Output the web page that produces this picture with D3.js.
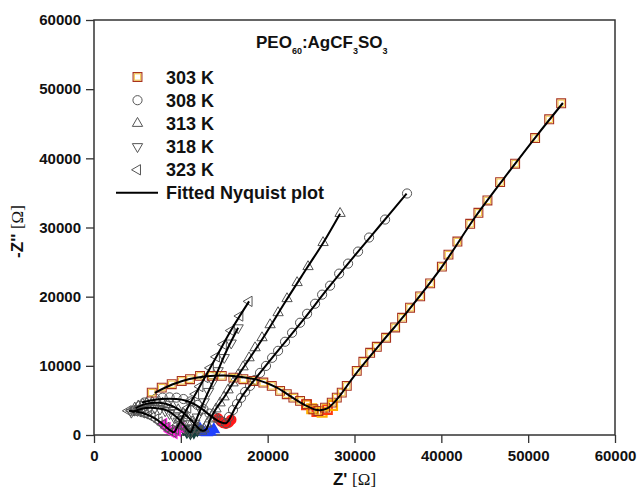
<!DOCTYPE html>
<html lang="en">
  <head>
    <meta charset="utf-8">
    <title>Nyquist plot PEO60:AgCF3SO3</title>
    <style>
      body { margin: 0; background: #fff; }
      text { font-family: "Liberation Sans", Arial, sans-serif; font-weight: bold; fill: #111; }
      .axis path { display: none; }
      .axis line { stroke: #333; stroke-width: 1.3; }
    </style>
  </head>
  <body>
    <div id="chart"></div>
    <script src="https://cdn.jsdelivr.net/npm/d3@7"></script>
    <script>
      // ticks
      var xTicks = [0, 10000, 20000, 30000, 40000, 50000, 60000];
      var yTicks = [0, 10000, 20000, 30000, 40000, 50000, 60000];

      // measured points [Z', -Z'']
      var k303 = [[6650,6130],[7800,6850],[8950,7340],[10100,7820],[11060,8070],[12210,8550],[13560,8550],[14710,8550],
        [16050,8300],[17200,8070],[18350,7820],[19500,7580],[20470,7100],[21430,6380],[22200,5900],[22960,5400],
        [23730,4930],[24500,4450],[25260,3720],[25840,3480],[26610,3960],[27380,4680],[27960,5400],[28530,6130],
        [29110,7100],[30260,9270],[31020,10580],[31800,11880],[32570,12750],[33640,14060],[34680,15550],[35480,16950],
        [36400,18400],[37560,20040],[38710,21920],[40060,24340],[40820,26080],[41850,27970],[43320,30530],[44270,32120],
        [45310,33910],[46770,36560],[48500,39220],[50800,42930],[52420,45640],[53800,47960]];
      var k308 = [[5300,4200],[5800,4700],[6400,5000],[7100,5250],[7900,5400],[8700,5450],[9500,5400],[10300,5200],
        [11100,4850],[11900,4350],[12600,3750],[13300,3100],[14000,2500],[14600,2000],[15200,1700],
        [15550,2610],[16010,3620],[16470,4490],[16930,5360],[17400,6230],[17970,7100],[18550,7970],[19120,8980],
        [19810,9990],[20510,11160],[21200,12170],[22000,13480],[22810,14780],[23730,16230],[24540,17530],[25460,18980],
        [26270,20290],[27190,21590],[28230,23330],[29260,24780],[30410,26520],[31680,28550],[33520,31150],[36050,34920]];
      var k313 = [[4700,3900],[5100,4200],[5600,4450],[6100,4600],[6700,4700],[7300,4700],[7900,4600],[8500,4400],
        [9100,4100],[9700,3650],[10300,3100],[10800,2500],[11300,1900],[11700,1300],[12100,850],[12400,550],
        [12670,870],[13020,1590],[13360,2320],[13710,3040],[14050,3770],[14520,4640],[14980,5510],[15440,6520],
        [16010,7530],[16590,8690],[17170,9850],[17860,11160],[18550,12610],[19350,14060],[20280,15940],[21200,17680],
        [22230,19710],[23390,22030],[24650,24340],[26380,27820],[28340,32030]];
      var k318 = [[4300,3300],[4700,3600],[5200,3800],[5800,3900],[6400,3950],[7000,3900],[7600,3750],[8200,3500],
        [8700,3100],[9200,2600],[9700,2000],[10100,1500],[10500,1000],[10800,600],[11100,400],
        [11300,900],[11600,1700],[11900,2600],[12300,3600],[12700,4800],[13200,6300],[13700,7700],[14300,9300],
        [15000,11200],[15800,13300],[16600,15500]];
      var k323 = [[3950,3500],[4300,3500],[4700,3450],[5100,3350],[5500,3200],[5900,3050],[6300,2850],[6700,2600],
        [7100,2300],[7500,1900],[7900,1500],[8300,1100],[8700,700],[9100,400],
        [9400,800],[9700,1500],[10000,2200],[10400,3000],[10800,3900],[11200,4800],[11700,5900],[12200,7000],
        [12800,8300],[13400,9700],[14100,11300],[14900,13100],[15800,15100],[16800,17200],[17860,19320]];

      // dense low-frequency points seen in colour under the markers
      var tail303 = [[24300,4600],[24900,4000],[25500,3600],[26100,3500],[26700,3900],[27300,4500]];
      var tail308 = [[14300,2400],[14600,2000],[14900,1750],[15200,1650],[15500,1800],[15800,2200]];
      var tail313 = [[12200,900],[12600,450],[13000,350],[13400,450],[13800,800]];
      var tail318 = [[10300,900],[10700,450],[11100,300],[11500,400],[11900,700]];
      var tail323 = [[8000,1600],[8400,1000],[8800,500],[9200,300],[9600,600],[10000,1100]];

      // fitted curves
      var fit303 = [[7000,6100],[9000,7300],[11000,8100],[13000,8500],[15000,8600],[17000,8400],[19000,7900],[21000,6900],
        [23000,5300],[24500,4200],[25700,3600],[26800,3800],[28000,5200],[30000,8600],[33000,13200],[36000,17700],
        [40000,24200],[44000,31700],[48000,38400],[51000,43300],[54000,48000]];
      var fit308 = [[5500,4700],[7000,5100],[8500,5250],[9500,5200],[10500,5000],[11500,4500],[12500,3700],[13500,2700],
        [14500,1900],[15200,1700],[15600,2300],[16200,3800],[17000,5500],[18000,7200],[19000,8800],[21000,11900],
        [24000,16500],[27000,21300],[30000,25900],[33000,30400],[36000,34900]];
      var fit313 = [[4800,3900],[6000,4500],[7500,4650],[9000,4200],[10200,3300],[11300,2000],[12000,1000],[12500,600],
        [12900,800],[13400,2300],[14000,3700],[15000,5500],[16000,7500],[17500,10300],[19500,14100],[22000,19200],
        [24500,24100],[26400,27800],[28340,32000]];
      var fit318 = [[4400,3300],[5500,3800],[7000,3900],[8500,3500],[9500,2600],[10300,1500],[10800,700],[11100,400],
        [11500,1400],[12200,3500],[13000,5800],[14000,8500],[15200,12000],[16600,15500]];
      var fit323 = [[4000,3500],[5000,3350],[6000,3000],[7000,2400],[8000,1500],[8800,650],[9200,400],[9600,1200],
        [10500,3300],[12000,6600],[14000,11100],[16000,15600],[17860,19320]];

      var labels = ["303 K", "308 K", "313 K", "318 K", "323 K"];

      var margin = {top: 20, right: 22, bottom: 58, left: 94},
          width = 637 - margin.left - margin.right,
          height = 493 - margin.top - margin.bottom;

      var svg = d3.select("#chart").append("svg")
          .attr("width", 637).attr("height", 493)
        .append("g")
          .attr("transform", "translate(" + margin.left + "," + margin.top + ")");

      var x = d3.scaleLinear().domain([0, 60000]).range([0, width]);
      var y = d3.scaleLinear().domain([0, 60000]).range([height, 0]);

      svg.append("g")
        .attr("class", "axis")
        .attr("transform", "translate(0," + height + ")")
        .call(d3.axisBottom(x).tickValues(xTicks).tickFormat(d3.format("d")).tickSize(8).tickPadding(7))
        .selectAll("text").style("font-size", "15px").attr("fill", "#111");

      svg.append("g")
        .attr("class", "axis")
        .call(d3.axisLeft(y).tickValues(yTicks).tickFormat(d3.format("d")).tickSize(8).tickPadding(5))
        .selectAll("text").style("font-size", "15px").attr("fill", "#111");

      svg.append("rect")
        .attr("width", width).attr("height", height)
        .attr("fill", "none").attr("stroke", "#333").attr("stroke-width", 1.5);

      // axis titles
      var xt = svg.append("text")
        .attr("x", width / 2).attr("y", height + 50)
        .attr("text-anchor", "middle").style("font-size", "17px");
      xt.append("tspan").text("Z' ");
      xt.append("tspan").style("font-weight", "normal").style("font-family", "'Liberation Serif', serif").text("[Ω]");

      var yt = svg.append("text")
        .attr("transform", "translate(-71," + (height / 2 + 4) + ") rotate(-90)")
        .attr("text-anchor", "middle").style("font-size", "17px");
      yt.append("tspan").text("-Z'' ");
      yt.append("tspan").style("font-weight", "normal").style("font-family", "'Liberation Serif', serif").text("[Ω]");

      var sym = {
        square: d3.symbol().type(d3.symbolSquare).size(78)(),
        squareIn: d3.symbol().type(d3.symbolSquare).size(40)(),
        circle: d3.symbol().type(d3.symbolCircle).size(66)(),
        tri: d3.symbol().type(d3.symbolTriangle).size(46)()
      };

      var series = [
        {data: k303, fit: fit303, tail: tail303, shape: "square", rot: 0, color: "#ff3b10"},
        {data: k308, fit: fit308, tail: tail308, shape: "circle", rot: 0, color: "#ff1a1a"},
        {data: k313, fit: fit313, tail: tail313, shape: "tri", rot: 0, color: "#2040ff"},
        {data: k318, fit: fit318, tail: tail318, shape: "tri", rot: 180, color: "#14403c"},
        {data: k323, fit: fit323, tail: tail323, shape: "tri", rot: -90, color: "#ff20e0"}
      ];

      function drawMarker(g, s, px, py) {
        var t = "translate(" + px + "," + py + ") rotate(" + s.rot + ")";
        if (s.shape == "square") {
          g.append("path").attr("d", sym.square).attr("transform", t)
            .attr("fill", "none").attr("stroke", "#a8321c").attr("stroke-width", 1.1);
          g.append("path").attr("d", sym.squareIn).attr("transform", t)
            .attr("fill", "none").attr("stroke", "#f2c02a").attr("stroke-width", 0.9);
        } else {
          g.append("path").attr("d", sym[s.shape]).attr("transform", t)
            .attr("fill", "none").attr("stroke", "#555").attr("stroke-width", 1);
        }
      }

      var plot = svg.append("g");

      // coloured under-layer
      series.forEach(function(s) {
        s.tail.forEach(function(d, i) {
          var sq = s.shape == "square";
          plot.append("path").attr("d", sym[sq ? "square" : s.shape])
            .attr("transform", "translate(" + (x(d[0]) + (sq ? 1.5 : 0)) + "," + (y(d[1]) + (sq ? 1.5 : 0)) + ") rotate(" + s.rot + ")")
            .attr("fill", sq ? "none" : s.color)
            .attr("stroke", sq && i % 2 ? "#ffb000" : s.color).attr("stroke-width", sq ? 2.2 : 1.5);
        });
      });

      // markers, drawn from the last series so the squares end on top
      series.slice().reverse().forEach(function(s) {
        s.data.forEach(function(d) { drawMarker(plot, s, x(d[0]), y(d[1])); });
      });

      // fitted lines
      var line = d3.line()
        .x(function(d) { return x(d[0]); })
        .y(function(d) { return y(d[1]); })
        .curve(d3.curveCatmullRom);

      series.forEach(function(s) {
        plot.append("path").datum(s.fit)
          .attr("fill", "none").attr("stroke", "#000").attr("stroke-width", 2)
          .attr("d", line);
      });

      // title
      var title = svg.append("text").attr("x", 162).attr("y", 28).style("font-size", "17px");
      title.append("tspan").text("PEO");
      title.append("tspan").attr("dy", 6).style("font-size", "9px").text("60");
      title.append("tspan").attr("dy", -6).text(":AgCF");
      title.append("tspan").attr("dy", 6).style("font-size", "9px").text("3");
      title.append("tspan").attr("dy", -6).text("SO");
      title.append("tspan").attr("dy", 6).style("font-size", "9px").text("3");

      // legend
      var leg = svg.append("g");
      series.forEach(function(s, i) {
        var ly = 57 + i * 23.2;
        drawMarker(leg, s, 43.5, ly);
        leg.append("text").attr("x", 72).attr("y", ly + 6.5).style("font-size", "18px").text(labels[i]);
      });
      leg.append("line").attr("x1", 22).attr("x2", 64).attr("y1", 172.7).attr("y2", 172.7)
        .attr("stroke", "#000").attr("stroke-width", 2);
      leg.append("text").attr("x", 72).attr("y", 179).style("font-size", "18px").text("Fitted Nyquist plot");
    </script>
  </body>
</html>
